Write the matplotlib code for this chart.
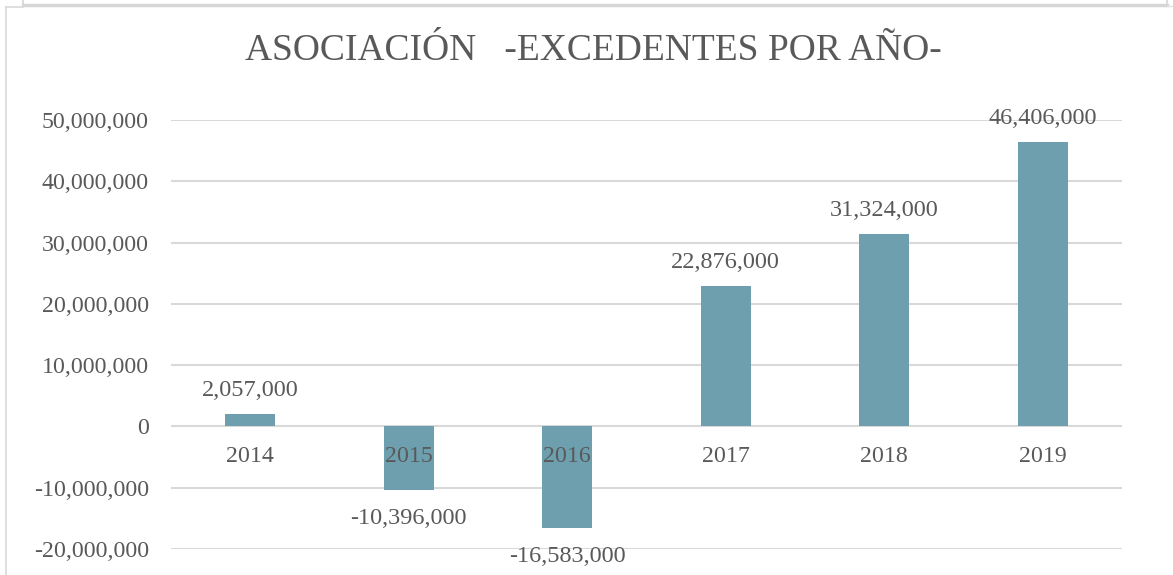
import matplotlib.pyplot as plt
from matplotlib.lines import Line2D
from matplotlib.ticker import FuncFormatter

# Data
years = ['2014', '2015', '2016', '2017', '2018', '2019']
values = [2057000, -10396000, -16583000, 22876000, 31324000, 46406000]
yticks = [-20000000, -10000000, 0, 10000000, 20000000, 30000000, 40000000, 50000000]

plt.rcParams['font.family'] = ['Liberation Serif', 'DejaVu Serif']
txt = '#595959'
grid = '#d9d9d9'
bar_color = '#6e9faf'

W, H = 1173, 575
fig = plt.figure(figsize=(W / 100, H / 100), dpi=100)

# axes placed by pixel position
left, right, top, bottom = 171, 1122, 120, 549
ax = fig.add_axes([left / W, (H - bottom) / H, (right - left) / W, (bottom - top) / H])

x = list(range(len(years)))
ax.bar(x, values, width=0.315, color=bar_color, zorder=2)
ax.set_xlim(-0.5, len(years) - 0.5)
ax.set_ylim(-20000000, 50000000)
ax.set_yticks(yticks)
ax.yaxis.set_major_formatter(FuncFormatter(lambda v, p: f'{int(v):,}'))
ax.tick_params(axis='y', length=0, pad=16, labelsize=17.2, labelcolor=txt)
ax.set_xticks([])
for y in yticks:
    ax.axhline(y, color=grid, lw=1.5, zorder=1)
for s in ax.spines.values():
    s.set_visible(False)

# category labels sit just under the zero line
for i, yr in enumerate(years):
    ax.annotate(yr, (i, 0), xytext=(0, -22), textcoords='offset points',
                ha='center', va='center', fontsize=17.2, color=txt, zorder=3)

# data labels
for i, v in enumerate(values):
    off = 17 if v >= 0 else -20.5
    ax.annotate(f'{v:,}', (i, v), xytext=(0, off), textcoords='offset points',
                ha='center', va='center', fontsize=17.5, color=txt, zorder=3)

fig.text(0.506, 1 - 51 / H, 'ASOCIACIÓN   -EXCEDENTES POR AÑO-', ha='center', va='center',
         fontsize=27, color=txt)

# frame bits from the screenshot
def px_line(x0, y0, x1, y1, c='#d9d9d9', lw=1.5):
    fig.add_artist(Line2D([x0 / W, x1 / W], [1 - y0 / H, 1 - y1 / H], color=c, lw=lw,
                          transform=fig.transFigure))

px_line(23, 4.5, 1167, 4.5, c='#d6d6d6', lw=2.5)
px_line(23, 0, 23, 5, c='#d6d6d6', lw=1.2)
px_line(1167, 0, 1167, 5, c='#d6d6d6', lw=1.2)
px_line(1167, 5.5, 1173, 5.5, c='#e4e4e4', lw=1)
px_line(5.5, 7, 5.5, 575, c='#d9d9d9', lw=1.2)
px_line(5.5, 7, 23, 7, c='#d9d9d9', lw=1.2)

fig.savefig('out.png', dpi=100)
